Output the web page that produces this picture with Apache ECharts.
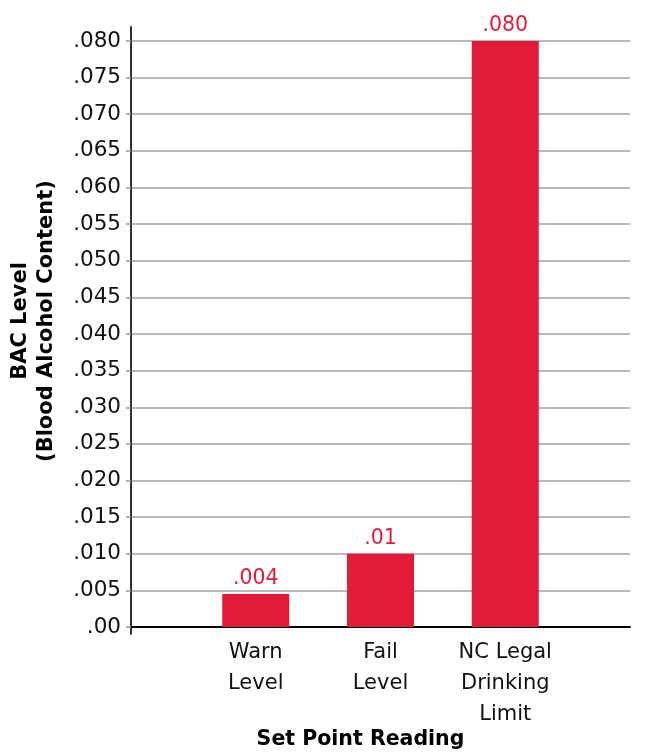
<!DOCTYPE html>
<html>
<head>
<meta charset="utf-8">
<script src="https://cdn.jsdelivr.net/npm/echarts@6/dist/echarts.min.js"></script>
<style>html,body{margin:0;padding:0;background:#fff}#c{width:651px;height:752px}</style>
</head>
<body>
<div id="c"></div>
<script>
const categories = ["Warn\nLevel", "Fail\nLevel", "NC Legal\nDrinking\nLimit"];
const values = [0.0045, 0.010, 0.080];
const valueLabels = [".004", ".01", ".080"];
const yTickLabels = [".00", ".005", ".010", ".015", ".020", ".025", ".030", ".035", ".040",
  ".045", ".050", ".055", ".060", ".065", ".070", ".075", ".080"];

const FONT = "DejaVu Sans";
const RED = "#E31B3A";

const axisData = [""].concat(categories, [""]);
const seriesData = [null].concat(values, [null]);
const labelData = [""].concat(valueLabels, [""]);

const chart = echarts.init(document.getElementById('c'), null, {renderer: 'canvas'});
chart.setOption({
  animation: false,
  textStyle: {fontFamily: FONT},
  grid: [
    {left: 131, right: 21, top: 41, bottom: 125, containLabel: false, outerBoundsMode: 'none'},
    {left: 131, right: 21, top: 27, bottom: 118, containLabel: false, outerBoundsMode: 'none'}
  ],
  xAxis: [
    {
      type: 'category', gridIndex: 0, data: axisData, boundaryGap: false,
      axisLine: {show: true, lineStyle: {color: '#000', width: 2}},
      axisTick: {show: false},
      axisLabel: {color: '#111', fontSize: 21, lineHeight: 31, margin: 10, interval: 0, fontFamily: FONT},
      name: 'Set Point Reading', nameLocation: 'middle', nameGap: 102, nameMoveOverlap: false,
      nameTextStyle: {fontSize: 20.5, fontWeight: 'bold', color: '#000', padding: [0, 40, 0, 0], fontFamily: FONT}
    },
    {type: 'category', gridIndex: 1, data: axisData, show: false}
  ],
  yAxis: [
    {
      type: 'value', gridIndex: 0, min: 0, max: 0.08, interval: 0.005,
      axisLine: {show: false},
      axisTick: {show: true, length: 5, lineStyle: {color: '#999', width: 1.5}},
      splitLine: {show: true, lineStyle: {color: '#a0a0a0', width: 1.5}},
      axisLabel: {
        color: '#111', fontSize: 21.5, margin: 10, fontFamily: FONT,
        formatter: function (v, i) { return yTickLabels[Math.round(v / 0.005)]; }
      },
      name: 'BAC Level\n(Blood Alcohol Content)', nameLocation: 'middle', nameGap: 71, nameRotate: 90,
      nameMoveOverlap: false,
      nameTextStyle: {fontSize: 21, fontWeight: 'bold', color: '#000', lineHeight: 26, padding: [0, 0, 0, 26], fontFamily: FONT}
    },
    {
      type: 'value', gridIndex: 1, min: 0, max: 1,
      axisLine: {show: true, lineStyle: {color: '#333', width: 2}},
      axisTick: {show: false}, axisLabel: {show: false}, splitLine: {show: false}
    }
  ],
  series: [{
    type: 'bar', xAxisIndex: 0, yAxisIndex: 0, data: seriesData, barWidth: 67,
    itemStyle: {color: RED},
    label: {
      show: true, position: 'top', distance: 5, color: RED, fontSize: 20.5, fontFamily: FONT,
      formatter: function (p) { return labelData[p.dataIndex]; }
    }
  }]
});
</script>
</body>
</html>
